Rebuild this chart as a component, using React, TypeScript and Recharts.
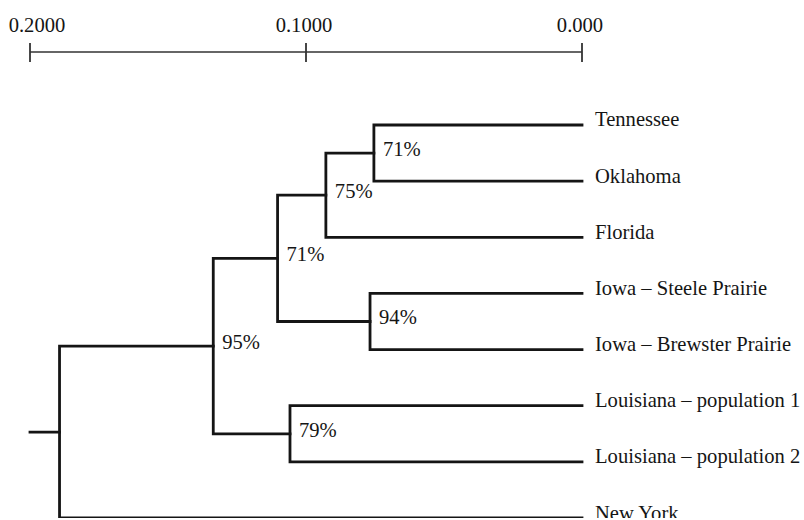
import React from 'react'
import { ComposedChart, Line, Scatter, XAxis, YAxis } from 'recharts'

// leaves, top to bottom
const leafNames = [
  'Tennessee',
  'Oklahoma',
  'Florida',
  'Iowa – Steele Prairie',
  'Iowa – Brewster Prairie',
  'Louisiana – population 1',
  'Louisiana – population 2',
  'New York',
]

// internal nodes (children by name/id), genetic distance, bootstrap support
const nodeIds = ['a', 'b', 'c', 'd', 'e', 'f', 'root']
const nodeLeft = ['Tennessee', 'a', 'Iowa – Steele Prairie', 'b', 'Louisiana – population 1', 'd', 'f']
const nodeRight = ['Oklahoma', 'Florida', 'Iowa – Brewster Prairie', 'c', 'Louisiana – population 2', 'e', 'New York']
const nodeDistance = [0.0754, 0.0928, 0.0768, 0.1103, 0.1058, 0.1336, 0.1893]
const nodeSupport = ['71%', '75%', '94%', '71%', '79%', '95%', '']

const rootStub = 0.2
const axisTicks = [0.2, 0.1, 0]
const axisTickLabels = ['0.2000', '0.1000', '0.000']

const INK = '#151515'
const FONT = '"Liberation Serif", "Times New Roman", serif'
const FS = 20.6

type Pt = { x: number; y: number }

const pos: Record<string, Pt> = {}
leafNames.forEach((n, i) => {
  pos[n] = { x: 0, y: i }
})
nodeIds.forEach((id, i) => {
  const l = pos[nodeLeft[i]]
  const r = pos[nodeRight[i]]
  pos[id] = { x: nodeDistance[i], y: (l.y + r.y) / 2 }
})

const branches: Pt[][] = nodeIds.map((id, i) => {
  const l = pos[nodeLeft[i]]
  const r = pos[nodeRight[i]]
  const n = pos[id]
  return [
    { x: l.x, y: l.y },
    { x: n.x, y: l.y },
    { x: n.x, y: r.y },
    { x: r.x, y: r.y },
  ]
})
branches.push([
  { x: pos.root.x, y: pos.root.y },
  { x: rootStub, y: pos.root.y },
])

const leafPoints = leafNames.map((n, i) => ({ x: 0, y: i, name: n }))
const supportPoints = nodeIds
  .map((id, i) => ({ x: pos[id].x, y: pos[id].y, name: nodeSupport[i] }))
  .filter((p) => p.name)

const AxisTick = (props: any) => {
  const { x, y, index } = props
  return (
    <g>
      <line x1={x} x2={x} y1={y - 9} y2={y + 10} stroke="#333" strokeWidth={1.8} />
      <text
        x={x + (index === 0 ? 7 : -2)}
        y={y - 20}
        textAnchor="middle"
        fontFamily={FONT}
        fontSize={FS}
        fill={INK}
      >
        {axisTickLabels[index]}
      </text>
    </g>
  )
}

const LeafLabel = (props: any) => (
  <text x={props.cx + 13} y={props.cy + 1.5} fontFamily={FONT} fontSize={FS} fill={INK}>
    {props.payload.name}
  </text>
)

const SupportLabel = (props: any) => (
  <text x={props.cx + 9} y={props.cy + 3} fontFamily={FONT} fontSize={FS} fill={INK}>
    {props.payload.name}
  </text>
)

export default function App() {
  return (
    <div style={{ position: 'absolute', left: 0, top: 0, background: '#fff' }}>
      <ComposedChart width={804} height={520} margin={{ top: 0, right: 222, bottom: 2, left: 30 }}>
        <XAxis
          xAxisId={0}
          type="number"
          dataKey="x"
          orientation="top"
          domain={[0, 0.2]}
          reversed
          ticks={axisTicks}
          height={52}
          tickSize={0}
          tickMargin={0}
          tickLine={false}
          axisLine={{ stroke: '#333', strokeWidth: 1.6 }}
          tick={<AxisTick />}
          interval={0}
        />
        <YAxis yAxisId={0} type="number" dataKey="y" domain={[-1.3, 7]} reversed hide allowDataOverflow />
        {branches.map((seg, i) => (
          <Line
            key={i}
            data={seg}
            dataKey="y"
            type="linear"
            stroke={INK}
            strokeWidth={2.8}
            strokeLinecap="square"
            strokeLinejoin="miter"
            dot={false}
            activeDot={false}
            isAnimationActive={false}
          />
        ))}
        <Scatter data={leafPoints} dataKey="y" shape={<LeafLabel />} isAnimationActive={false} />
        <Scatter data={supportPoints} dataKey="y" shape={<SupportLabel />} isAnimationActive={false} />
      </ComposedChart>
    </div>
  )
}
